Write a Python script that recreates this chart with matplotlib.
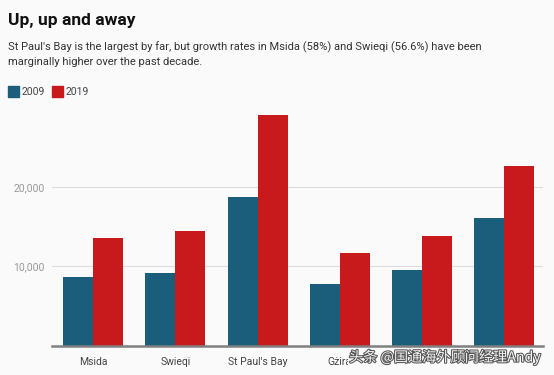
import matplotlib.pyplot as plt
import matplotlib.patheffects as pe
import numpy as np

places = ['Msida', 'Swieqi', "St Paul's Bay", 'Gżira', 'San Ġwann', 'Sliema']
pop_2009 = [8600, 9150, 18700, 7750, 9500, 16100]
pop_2019 = [13600, 14400, 29100, 11700, 13800, 22600]
yticks = [10000, 20000]
ytick_labels = ['10,000', '20,000']

bg = '#fafafa'
blue = '#1b5e7b'
red = '#c8191d'

plt.rcParams['font.family'] = ['Roboto', 'DejaVu Sans']

fig = plt.figure(figsize=(5.54, 3.75), dpi=100, facecolor=bg)
ax = fig.add_axes([52 / 554, 1 - 345.5 / 375, (543 - 52) / 554, 245.8 / 375])
ax.set_facecolor(bg)

x = np.arange(len(places))
w = 0.365
ax.bar(x - w / 2, pop_2009, w, color=blue, zorder=3)
ax.bar(x + w / 2, pop_2019, w, color=red, zorder=3)

ax.set_xlim(-0.5, 5.47)
ax.set_ylim(0, 31000)
ax.set_yticks(yticks)
ax.set_yticklabels(ytick_labels, fontsize=7.5, color='#999999')
ax.set_xticks(x)
ax.set_xticklabels(places, fontsize=7.5, color='#444444')
ax.tick_params(axis='y', length=0, pad=5.5)
ax.tick_params(axis='x', length=0, pad=8)
ax.grid(axis='y', color='#dddddd', linewidth=0.8, zorder=0)
for s in ['top', 'right', 'left']:
    ax.spines[s].set_visible(False)
ax.spines['bottom'].set_color('#808080')
ax.spines['bottom'].set_linewidth(1.8)
ax.spines['bottom'].set_zorder(4)

fig.text(8 / 554, 1 - 25 / 375, 'Up, up and away', fontsize=12.5, fontweight='bold',
         color='#111111', va='baseline')
fig.text(8 / 554, 1 - 50 / 375,
         "St Paul's Bay is the largest by far, but growth rates in Msida (58%) and Swieqi (56.6%) have been",
         fontsize=8.0, color='#333333', va='baseline')
fig.text(8 / 554, 1 - 65 / 375, 'marginally higher over the past decade.',
         fontsize=8.0, color='#333333', va='baseline')

# legend
fig.patches.append(plt.Rectangle((8 / 554, 1 - 97 / 375), 11 / 554, 11 / 375,
                                 transform=fig.transFigure, color=blue))
fig.text(22 / 554, 1 - 92 / 375, '2009', fontsize=7.5, color='#444444', va='center')
fig.patches.append(plt.Rectangle((52 / 554, 1 - 97 / 375), 11 / 554, 11 / 375,
                                 transform=fig.transFigure, color=red))
fig.text(66 / 554, 1 - 92 / 375, '2019', fontsize=7.5, color='#444444', va='center')

# watermark, covers the last labels as in the source image
fig.text(349 / 554, 1 - 357 / 375, '头条 @国通海外顾问经理Andy', fontsize=10.2,
         family=['Noto Sans CJK SC', 'DejaVu Sans'], color='#f4f4f4', va='center',
         path_effects=[pe.withStroke(linewidth=1.5, foreground='#555555')], zorder=10,
         bbox=dict(boxstyle='square,pad=0.05', facecolor=bg, edgecolor='none'))

fig.savefig('out.png', dpi=100, facecolor=bg)
